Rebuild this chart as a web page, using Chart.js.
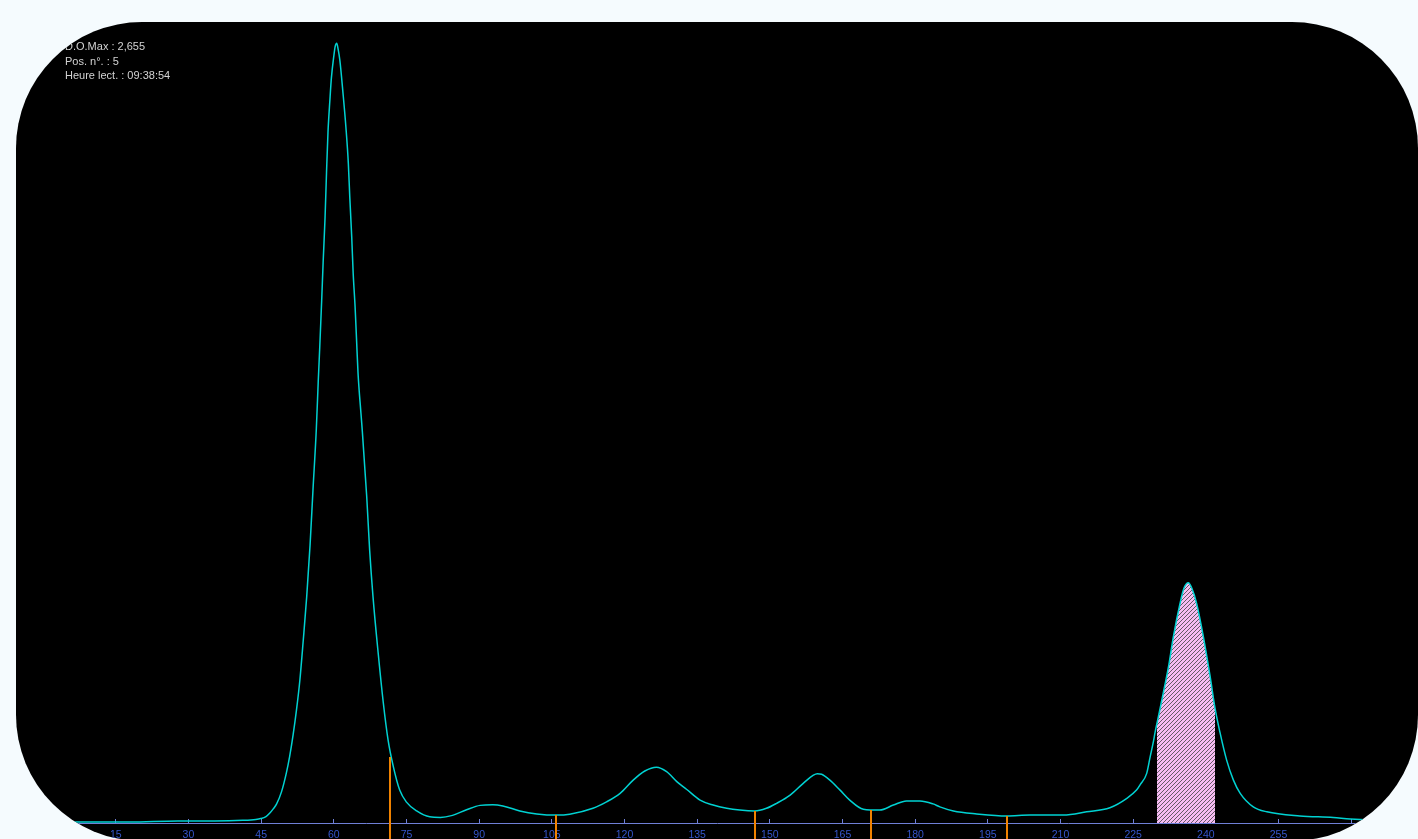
<!DOCTYPE html>
<html>
<head>
<meta charset="utf-8">
<title>Densitogramme</title>
<script src="https://cdn.jsdelivr.net/npm/chart.js@4.4.0/dist/chart.umd.min.js"></script>
<style>
  html, body { margin: 0; padding: 0; width: 1418px; height: 839px; overflow: hidden; background: #f5fbfe; }
  #panel { position: absolute; left: 16px; top: 22px; width: 1402px; height: 819px; background: #000; border-radius: 126px; overflow: hidden; }
  #densito { position: absolute; left: 0; top: 0; }
  #info { position: absolute; left: 49px; top: 17px; font: 11px "Liberation Sans", Arial, sans-serif; line-height: 14.5px; color: #d2d2d2; white-space: nowrap; }
</style>
</head>
<body>
<div id="panel">
  <canvas id="densito" width="1402" height="819"></canvas>
  <div id="info"><div>D.O.Max : 2,655</div><div>Pos. n°. : 5</div><div>Heure lect. : 09:38:54</div></div>
</div>
<script>
// migration position (x) and optical density (y)
var positions = [0, 7.6, 17.9, 27.8, 35.4, 41.2, 43.9, 44.9, 46.0, 46.8, 47.5, 48.2, 49.2, 50.2, 50.9,
  51.6, 52.3, 53.0, 53.7, 54.4, 55.1, 55.7, 56.4, 56.8, 57.1, 57.5, 57.8, 58.2, 58.5, 58.8, 59.2, 59.5,
  60.0, 60.3, 60.6, 60.9, 61.25, 61.9, 62.5, 63.0, 63.3, 63.7, 64.0, 64.4, 64.7, 65.0, 65.6, 65.9,
  66.8, 67.4, 68.1, 69.2, 70.2, 71.2, 72.3, 73.6, 75.0, 77.1, 79.8, 82.0, 84.5, 87.4, 90.2, 92.8, 94.9,
  98.4, 101.9, 106.0, 108.7, 113.5, 116.3, 119.1, 121.8, 124.2, 126.6, 128.7, 130.8, 132.8, 135.6,
  138.3, 141.1, 143.8, 146.9, 149.3, 151.4, 154.2, 156.9, 159.0, 159.8, 160.7, 162.4, 164.5, 166.5,
  169.3, 172.7, 175.5, 178.2, 181.0, 183.7, 185.1, 187.9, 192.7, 198.9, 203.7, 210.6, 215.4, 220.2,
  223.7, 225.7, 226.4, 227.8, 228.5, 229.2, 229.5, 229.9, 230.2, 231.2, 232.3, 233.3, 234.7, 235.5,
  236.4, 237.1, 238.1, 239.5, 240.9, 241.9, 242.9, 244.3, 245.7, 247.1, 249.8, 252.6, 259.4, 266.3,
  269.8, 278.0, 283.8];
var density = [0.003, 0.003, 0.003, 0.007, 0.007, 0.009, 0.012, 0.015, 0.022, 0.034, 0.048, 0.065, 0.106, 0.170, 0.228,
  0.300, 0.385, 0.487, 0.623, 0.769, 0.946, 1.133, 1.344, 1.508, 1.620, 1.780, 1.909, 2.063, 2.216, 2.352, 2.463, 2.536,
  2.611, 2.645, 2.655, 2.634, 2.597, 2.485, 2.369, 2.246, 2.131, 1.995, 1.872, 1.756, 1.644, 1.532, 1.396, 1.331,
  1.110, 0.929, 0.769, 0.572, 0.412, 0.283, 0.191, 0.112, 0.071, 0.041, 0.021, 0.019, 0.026, 0.045, 0.060, 0.062, 0.058,
  0.041, 0.031, 0.027, 0.030, 0.050, 0.072, 0.101, 0.146, 0.177, 0.190, 0.175, 0.141, 0.115, 0.078,
  0.061, 0.050, 0.044, 0.041, 0.050, 0.067, 0.095, 0.135, 0.163, 0.168, 0.166, 0.146, 0.112, 0.078,
  0.047, 0.044, 0.061, 0.075, 0.075, 0.065, 0.055, 0.041, 0.031, 0.024, 0.027, 0.027, 0.038, 0.052,
  0.084, 0.112, 0.129, 0.169, 0.224, 0.279, 0.306, 0.338, 0.361, 0.441, 0.532, 0.634, 0.749, 0.800,
  0.818, 0.800, 0.748, 0.634, 0.498, 0.391, 0.310, 0.214, 0.146, 0.101, 0.055, 0.038, 0.024, 0.019,
  0.014, 0.010, 0.010];
var tickValues = [15, 30, 45, 60, 75, 90, 105, 120, 135, 150, 165, 180, 195, 210, 225, 240, 255, 270];
// fraction limits (orange bars) and the height of the trace where each one stands
var fractionLimits = [71.7, 105.8, 146.9, 170.9, 198.9];
var fractionLimitTops = [0.225, 0.027, 0.041, 0.044, 0.024];
// selected (hatched) fraction
var selectedRange = [229.9, 241.9];
var selectedEdges = [0.338, 0.391];

var curve = positions.map(function (p, i) {
  return { x: p, y: density[i] };
});
var selected = [{ x: selectedRange[0], y: selectedEdges[0] }]
  .concat(curve.filter(function (pt) { return pt.x > selectedRange[0] && pt.x < selectedRange[1]; }))
  .concat([{ x: selectedRange[1], y: selectedEdges[1] }]);

function hatchPattern() {
  var c = document.createElement('canvas');
  c.width = 4;
  c.height = 4;
  var g = c.getContext('2d');
  g.fillStyle = '#f6bcf2';
  g.fillRect(0, 0, 4, 4);
  g.fillStyle = '#665a66';
  for (var i = 0; i < 4; i++) {
    g.fillRect(i, 3 - i, 1, 1);
  }
  return g.createPattern(c, 'repeat');
}

var limitLines = {
  id: 'limitLines',
  afterDatasetsDraw: function (chart) {
    var xs = chart.scales.x, ys = chart.scales.y, ctx = chart.ctx;
    ctx.save();
    ctx.strokeStyle = '#f08200';
    ctx.lineWidth = 2;
    fractionLimits.forEach(function (p, i) {
      var px = Math.round(xs.getPixelForValue(p));
      ctx.beginPath();
      ctx.moveTo(px, ys.getPixelForValue(fractionLimitTops[i]));
      ctx.lineTo(px, chart.height);
      ctx.stroke();
    });
    ctx.restore();
  }
};

var ctx = document.getElementById('densito').getContext('2d');
var chart = new Chart(ctx, {
  type: 'line',
  data: {
    datasets: [{
      data: curve,
      borderColor: '#00d2d2',
      borderWidth: 1.5,
      pointRadius: 0,
      fill: false,
      cubicInterpolationMode: 'monotone',
      order: 0
    }, {
      data: selected,
      borderWidth: 0,
      pointRadius: 0,
      fill: 'origin',
      backgroundColor: hatchPattern(),
      cubicInterpolationMode: 'monotone',
      order: 1
    }]
  },
  options: {
    responsive: false,
    animation: false,
    layout: { padding: { top: 8, left: 0, right: 0, bottom: 0 } },
    plugins: { legend: { display: false }, tooltip: { enabled: false } },
    scales: {
      x: {
        type: 'linear',
        min: -5.6,
        max: 283.8,
        afterBuildTicks: function (s) {
          s.ticks = tickValues.map(function (v) { return { value: v }; });
        },
        afterFit: function (s) { s.height = 18; },
        grid: { drawOnChartArea: false, color: '#6f7fd6', tickLength: -4, tickWidth: 1 },
        border: { color: '#6f7fd6', width: 1 },
        ticks: {
          color: '#3556cc',
          font: { family: 'Liberation Sans', size: 10.5 },
          padding: 10,
          maxRotation: 0,
          autoSkip: false
        }
      },
      y: { display: false, min: 0, max: 2.7 }
    }
  },
  plugins: [limitLines]
});
</script>
</body>
</html>
